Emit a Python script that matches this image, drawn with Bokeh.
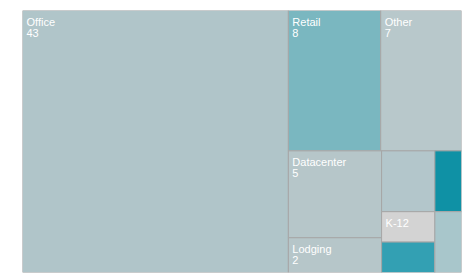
import math
from bokeh.plotting import figure
from bokeh.models import Range1d, ColumnDataSource
from bokeh.core.properties import value
from bokeh.embed import file_html
from bokeh.resources import INLINE

# ---- data ----
names = ["Office", "Retail", "Other", "Datacenter", "Lodging", "", "", "K-12", "", ""]
values = [43, 8, 7, 5, 2, 2, 1, 1, 1, 1]
colors = ["#b0c5c9", "#7ab7c0", "#b8c8cb", "#b6c6c9", "#b6c6c9",
          "#b3c6cb", "#0f91a5", "#d3d3d3", "#33a0b3", "#a8c6cb"]

W, H = 439.0, 262.0
PHI = (1 + 5 ** 0.5) / 2


def squarify(vals, x0, y0, x1, y1, ratio=PHI):
    rects = [None] * len(vals)
    n = len(vals)
    i0 = i1 = 0
    total = float(sum(vals))
    while i0 < n:
        dx, dy = x1 - x0, y1 - y0
        sumv = vals[i1]
        i1 += 1
        minv = maxv = sumv
        alpha = max(dy / dx, dx / dy) / (total * ratio)
        beta = sumv * sumv * alpha
        minr = max(maxv / beta, beta / minv)
        while i1 < n:
            v = vals[i1]
            s2 = sumv + v
            mn, mx = min(minv, v), max(maxv, v)
            beta = s2 * s2 * alpha
            nr = max(mx / beta, beta / mn)
            if nr > minr:
                break
            sumv, minv, maxv, minr = s2, mn, mx, nr
            i1 += 1
        row = list(range(i0, i1))
        if dx < dy:
            ny = y0 + dy * sumv / total
            xx = x0
            for k in row:
                w = dx * vals[k] / sumv
                rects[k] = (xx, y0, xx + w, ny)
                xx += w
            y0 = ny
        else:
            nx = x0 + dx * sumv / total
            yy = y0
            for k in row:
                h = dy * vals[k] / sumv
                rects[k] = (x0, yy, nx, yy + h)
                yy += h
            x0 = nx
        total -= sumv
        i0 = i1
    return rects


rects = squarify(values, 0.0, 0.0, W, H)

src = ColumnDataSource(dict(
    left=[r[0] for r in rects], top=[r[1] for r in rects],
    right=[r[2] for r in rects], bottom=[r[3] for r in rects],
    color=colors,
))

name_x, name_y, name_t = [], [], []
val_x, val_y, val_t = [], [], []
for nm, v, r in zip(names, values, rects):
    if nm:
        name_x.append(r[0]); name_y.append(r[1]); name_t.append(nm)
        if r[3] - r[1] >= 32:
            val_x.append(r[0]); val_y.append(r[1]); val_t.append(str(v))

p = figure(width=462, height=274, output_backend="svg", toolbar_location=None,
           x_range=Range1d(0, W), y_range=Range1d(H, 0),
           min_border_left=22, min_border_right=1, min_border_top=10, min_border_bottom=2)
p.axis.visible = False
p.grid.visible = False
p.outline_line_color = None
p.background_fill_color = "white"
p.border_fill_color = "white"

p.quad(left="left", right="right", top="top", bottom="bottom", fill_color="color",
       line_color="#a6a6a6", line_width=1, source=src)

p.text(x=name_x, y=name_y, text=name_t, x_offset=4, y_offset=5, text_baseline="top",
       text_align="left", text_font=value("Liberation Sans"), text_font_size="11px",
       text_color="white")
p.text(x=val_x, y=val_y, text=val_t, x_offset=4, y_offset=18, text_baseline="top",
       text_align="left", text_font=value("Liberation Sans"), text_font_size="11px",
       text_color="white")

open("out.html", "w").write(file_html(p, INLINE))
